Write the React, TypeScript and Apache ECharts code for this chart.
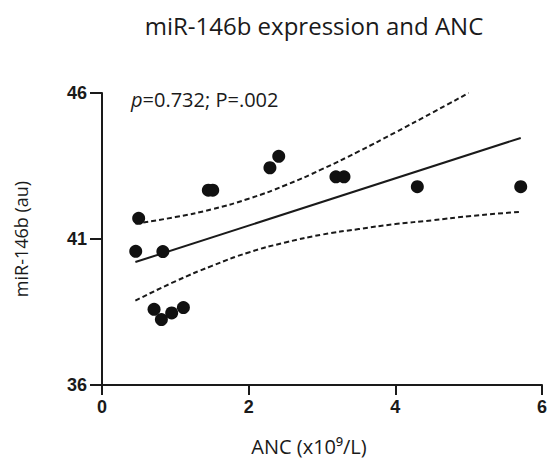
import React, { useEffect, useRef } from "react";
import * as echarts from "echarts";

const ancValues = [0.46, 0.5, 0.71, 0.81, 0.83, 0.95, 1.11, 1.45, 1.51, 2.29, 2.41, 3.19, 3.3, 4.3, 5.71];
const mirValues = [40.58, 41.71, 38.59, 38.24, 40.57, 38.47, 38.65, 42.67, 42.67, 43.44, 43.83, 43.13, 43.13, 42.79, 42.79];

const fitX = [0.455, 5.71];
const fitY = [40.21, 44.46];

const upperX = [0.455, 1.0, 1.5, 2.0, 2.5, 3.0, 3.5, 4.0, 4.5, 5.0];
const upperY = [41.53, 41.75, 42.02, 42.38, 42.84, 43.39, 44.0, 44.65, 45.32, 46.0];

const lowerX = [0.455, 1.0, 1.5, 2.0, 2.5, 3.0, 3.5, 4.0, 4.5, 5.0, 5.7];
const lowerY = [38.89, 39.55, 40.08, 40.54, 40.88, 41.15, 41.34, 41.51, 41.64, 41.78, 41.93];

const xTicks = { min: 0, max: 6, interval: 2 };
const yTicks = { min: 36, max: 46, interval: 5 };

const titleText = "miR-146b expression and ANC";
const statText = "{i|p}=0.732; P=.002";
const xName = "ANC (x10⁹/L)";
const yName = "miR-146b (au)";

const zip = (a: number[], b: number[]) => a.map((v, i) => [v, b[i]]);

export default function App() {
  const ref = useRef<HTMLDivElement>(null);
  useEffect(() => {
    if (!ref.current) return;
    const chart = echarts.init(ref.current, null, { renderer: "svg" });
    const sans = "'Open Sans', sans-serif";
    const bold = "'Liberation Sans', Arial, sans-serif";
    const ink = "#1a1a1a";
    chart.setOption({
      animation: false,
      backgroundColor: "#ffffff",
      title: {
        text: titleText,
        left: 309,
        textAlign: "center",
        top: 8,
        textStyle: { fontFamily: sans, fontSize: 24, fontWeight: "normal", color: "#1a1a1a" },
      },
      grid: { left: 102, right: 1, top: 93, bottom: 74, containLabel: false },
      xAxis: {
        type: "value",
        min: xTicks.min,
        max: xTicks.max,
        interval: xTicks.interval,
        name: xName,
        nameLocation: "middle",
        nameGap: 51,
        nameTextStyle: { fontFamily: sans, fontSize: 20, color: "#1a1a1a", padding: [0, 26, 0, 0] },
        axisLine: { lineStyle: { color: ink, width: 2 } },
        axisTick: { length: 10, lineStyle: { color: ink, width: 2 } },
        axisLabel: { fontFamily: bold, fontWeight: "bold", fontSize: 18, color: ink, margin: 13 },
        splitLine: { show: false },
      },
      yAxis: {
        type: "value",
        min: yTicks.min,
        max: yTicks.max,
        interval: yTicks.interval,
        name: yName,
        nameLocation: "middle",
        nameGap: 72,
        nameTextStyle: { fontFamily: sans, fontSize: 18, color: "#1a1a1a" },
        axisLine: { show: true, lineStyle: { color: ink, width: 2 } },
        axisTick: { show: true, length: 12, lineStyle: { color: ink, width: 2 } },
        axisLabel: { fontFamily: bold, fontWeight: "bold", fontSize: 18, color: ink, margin: 15 },
        splitLine: { show: false },
      },
      graphic: [
        {
          type: "text",
          x: 131,
          y: 99,
          style: {
            text: statText,
            fontFamily: sans,
            fontSize: 20,
            fill: "#1a1a1a",
            verticalAlign: "middle",
            rich: { i: { fontStyle: "italic", fontFamily: sans, fontSize: 20, fill: "#1a1a1a" } },
          },
        },
      ],
      series: [
        {
          type: "line",
          data: zip(fitX, fitY),
          symbol: "none",
          lineStyle: { color: ink, width: 2 },
          z: 2,
        },
        {
          type: "line",
          data: zip(upperX, upperY),
          symbol: "none",
          smooth: true,
          lineStyle: { color: ink, width: 2, type: [5, 3] },
          z: 2,
        },
        {
          type: "line",
          data: zip(lowerX, lowerY),
          symbol: "none",
          smooth: true,
          lineStyle: { color: ink, width: 2, type: [5, 3] },
          z: 2,
        },
        {
          type: "scatter",
          data: zip(ancValues, mirValues),
          symbol: "circle",
          symbolSize: 13,
          itemStyle: { color: "#111111", opacity: 1 },
          z: 3,
        },
      ],
    });
    return () => chart.dispose();
  }, []);
  return <div ref={ref} style={{ width: 550, height: 461, position: "absolute", left: 0, top: 0 }} />;
}
